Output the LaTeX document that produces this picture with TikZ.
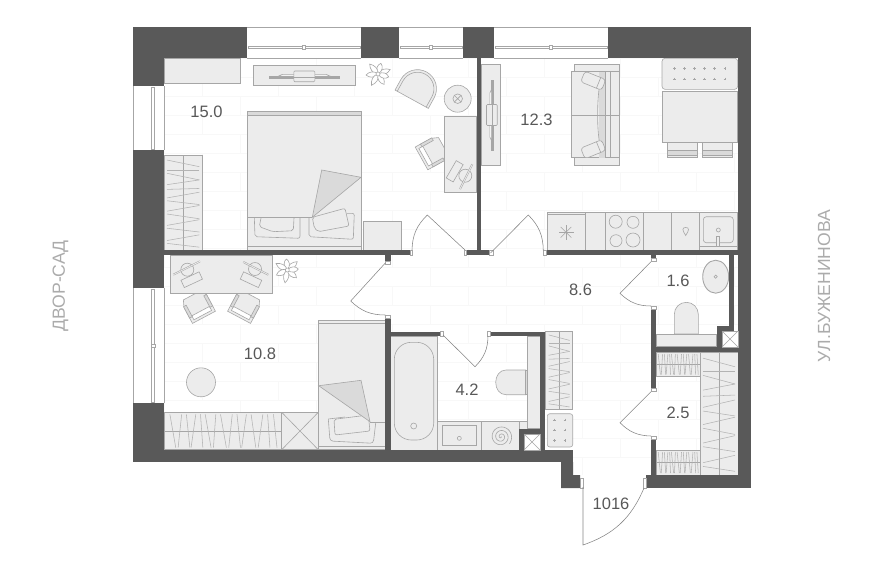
\documentclass[tikz,border=0pt]{standalone}
\usepackage{fontspec}
\setmainfont{Liberation Sans}
\definecolor{wallcol}{HTML}{595959}
\definecolor{furncol}{HTML}{ECECEC}
\definecolor{foldcol}{HTML}{DADADA}
\definecolor{linecol}{HTML}{A6A6A6}
\definecolor{tilecol}{HTML}{F8F8F8}
\definecolor{areacol}{HTML}{585858}
\definecolor{sidecol}{HTML}{ABABAB}
\tikzset{
	wall/.style={fill=wallcol,draw=none},
	furn/.style={fill=furncol,draw=linecol,line width=0.6pt},
	fold/.style={fill=foldcol,draw=linecol,line width=0.6pt},
	thinline/.style={draw=linecol,line width=0.6pt},
	penline/.style={draw=linecol,line width=0.5pt,double=furncol,double distance=0.8pt},
	hanger/.style={draw=linecol!85!white,line width=0.55pt},
	jamb/.style={fill=white,draw=linecol,line width=0.5pt},
	leaf/.style={draw=linecol!80!black,line width=0.55pt},
	area/.style={text=areacol,font=\fontsize{16.5}{20}\selectfont},
	side/.style={text=sidecol,font=\fontsize{17.6}{20}\selectfont,rotate=90}
}
% horizontal window (x0,x1)
\def\winh(#1,#2){
	\draw[thinline] (#1,27) -- (#2,27);
	\draw[thinline] (#1,58) -- (#2,58);
	\draw[jamb] (#1+1,46) rectangle (#2-1,48.7);
	\draw[jamb] ({(#1+#2)/2-1.5},45.5) rectangle ({(#1+#2)/2+1.5},49);
}
% vertical window (y0,y1)
\def\winv(#1,#2){
	\draw[thinline] (133,#1) -- (133,#2);
	\draw[thinline] (164,#1) -- (164,#2);
	\draw[jamb] (151.7,#1+1) rectangle (154.7,#2-1);
}
% wardrobe with hangers across x
\def\rackv(#1,#2)(#3,#4){
	\draw[furn] (#1,#2) rectangle (#3,#4);
	\draw[thinline] ({(#1+#3)/2},#2) -- ({(#1+#3)/2},#4);
	\foreach \ya/\yb in {.05/.12,.16/.16,.19/.26,.31/.26,.36/.35,.45/.39,.48/.52,.59/.53,.62/.67,.74/.68,.77/.81,.9/.84,.93/.97}
		\draw[hanger] (#1+3,{#2+\ya*(#4-#2)}) -- (#3-3,{#2+\yb*(#4-#2)});
}
% wardrobe with hangers across y
\def\rackh(#1,#2)(#3,#4){
	\draw[furn] (#1,#2) rectangle (#3,#4);
	\draw[thinline] (#1,{(#2+#4)/2}) -- (#3,{(#2+#4)/2});
	\foreach \xa/\xb in {.05/.1,.15/.12,.19/.22,.27/.23,.31/.33,.35/.40,.44/.42,.48/.53,.58/.55,.62/.65,.70/.66,.74/.78,.84/.80,.88/.90,.93/.96}
		\draw[hanger] ({#1+\xa*(#3-#1)},#2+2) -- ({#1+\xb*(#3-#1)},#4-2);
}
\def\plant(#1,#2)(#3){
	\begin{scope}[shift={(#1,#2)},rotate=#3]
		\foreach \ang/\len in {20/13,75/11,130/13,185/12,240/13,300/12,345/11}
			\draw[thinline,fill=white,rotate=\ang] (0,0) .. controls (4,-4) and (9,-3) .. (\len,0) .. controls (9,3) and (4,4) .. (0,0);
		\draw[thinline,fill=white] (0,0) circle (2);
	\end{scope}
}
\def\deskchair(#1,#2)(#3){
	\begin{scope}[shift={(#1,#2)},rotate=#3]
		\draw[furn] (-10,-13) -- (10,-13) -- (13,-6) -- (13,12) -- (-13,12) -- (-13,-6) -- cycle;
		\draw[thinline,fill=white] (-10,5) rectangle (10,9.5);
		\draw[fold] (-13,-7) rectangle (-10,6);
		\draw[fold] (10,-7) rectangle (13,6);
	\end{scope}
}
\def\tvset(#1,#2)(#3){
	\begin{scope}[shift={(#1,#2)},rotate=#3]
		\draw[thinline,fill=white] (-35,-.8) rectangle (35,.8);
		\draw[thinline,fill=white] (-26,-.8) -- (-22,-2.6) -- (22,-2.6) -- (26,-.8) -- cycle;
		\draw[furn,rounded corners=1pt] (-10.5,-6) rectangle (10.5,4.7);
		\draw[thinline] (-35,0) -- (35,0);
	\end{scope}
}
\def\deskset(#1,#2)(#3,#4)(#5){
	\draw[thinline,fill=furncol,rotate around={#5:(#3,#4)}] (#3-10,#4-4) rectangle (#3+10,#4+4);
	\draw[thinline] (#1,#2) circle (6.5);
}
\def\doorleaf(#1)(#2)(#3)(#4){
	\draw[leaf] (#1) -- (#2) to[bend #3] (#4);
}
\begin{document}
\begin{tikzpicture}[x=1pt,y=-1pt]
	%%%%% START %%%%%
	\useasboundingbox (0,0) rectangle (883,571);
	
	% floor tiles
	\begin{scope}
		\clip (164,58) -- (738,58) -- (738,475) -- (573,475) -- (573,450) -- (164,450) -- cycle;
		\foreach \i in {0,...,21}
			\draw[tilecol,line width=0.5pt] (164,58+19*\i) -- (738,58+19*\i);
		\foreach \i in {0,...,21}
			\foreach \j in {0,...,8}
				\draw[tilecol,line width=0.5pt] ({164+76*\j+38*mod(\i,2)},{58+19*\i}) -- ({164+76*\j+38*mod(\i,2)},{77+19*\i});
	\end{scope}
	
	% windows
	\winh(247,361)
	\winh(399,463)
	\winh(494,608)
	\winv(86,150)
	\winv(288,403)
	\draw[jamb] (151.2,344) rectangle (155.2,347);
	
	% room 15.0
	\draw[furn] (164,58) rectangle (240,83.5);
	\draw[furn] (253.3,65.3) rectangle (355,85);
	\tvset(304.3,77)(0)
	\plant(378,74)(0)
	\begin{scope}[shift={(411.7,99.2)},rotate=-28.8]
		\draw[furn] (-19,0) -- (-19,-12) .. controls (-19,-22.5) and (-10.5,-31) .. (0,-31) .. controls (10.5,-31) and (19,-22.5) .. (19,-12) -- (19,0) -- cycle;
		\draw[thinline] (-16.5,0) -- (-16.5,-12) .. controls (-16.5,-21) and (-9,-28.5) .. (0,-28.5) .. controls (9,-28.5) and (16.5,-21) .. (16.5,-12) -- (16.5,0);
	\end{scope}
	\draw[furn] (457.7,98.7) circle (13.5);
	\draw[thinline] (457.7,98.7) circle (4.8);
	\draw[thinline] (454.3,95.3) -- (461.1,102.1) (454.3,102.1) -- (461.1,95.3);
	\deskchair(432,152.6)(-61)
	\draw[furn] (444.3,116.7) rectangle (476.7,192.7);
	\deskset(465.3,175.7)(454.7,171.3)(60)
	\draw[penline] (460,189) -- (472.3,164.3);
	\draw[furn] (247,111) rectangle (361.5,250);
	\draw[fold] (247,111) rectangle (361.5,115.7);
	\draw[thinline] (247,217.3) -- (312.3,217.3);
	\draw[thinline] (247,246.7) -- (361.5,246.7);
	\draw[thinline,rounded corners=2pt] (254.3,217.3) -- (255,236.7) -- (300,238.3) -- (300,217.3);
	\draw[thinline,rounded corners=2pt] (261,218) -- (259.3,226.7) -- (273,231.7) -- (293.3,230.7) -- (294,218);
	\draw[thinline,rounded corners=2pt] (309,217.3) -- (309,236.7) -- (353.3,239.3) -- (354.3,213.3) -- (346.7,213.3);
	\draw[furn,rounded corners=2pt] (312.3,217.3) -- (345,208.3) -- (349,226) -- (318.3,231.7) -- (314.3,228) -- cycle;
	\draw[fold] (321.7,170) -- (361,177.3) -- (312.3,217.3) -- cycle;
	\draw[furn] (363.3,221.3) rectangle (401,250);
	\rackv(164,155.3)(202.3,250)
	
	% room 12.3
	\draw[furn] (481.3,64.3) rectangle (500.7,165.7);
	\tvset(492.5,115)(90)
	\draw[furn] (574.3,64.3) rectangle (619.7,72);
	\draw[furn] (574.3,157.7) rectangle (619.7,165.7);
	\draw[furn] (571.7,71.7) rectangle (619.7,157.7);
	\fill[foldcol] (599.3,71.7) rectangle (605,157.7);
	\draw[thinline] (605,71.7) -- (605,157.7) (610,71.7) -- (610,157.7);
	\draw[thinline] (571.7,115) -- (619.7,115);
	\draw[thinline] (599.3,86.7) .. controls (597,105) and (597,125) .. (599.3,141.7);
	\draw[furn,rounded corners=3pt,rotate around={-22:(593.3,80.7)}] (582,75) rectangle (604.5,86.5);
	\draw[thinline,rotate around={-22:(593.3,80.7)}] (599,75) -- (599,86.5);
	\draw[furn,rounded corners=3pt,rotate around={22:(593.3,149.3)}] (582,143.5) rectangle (604.5,155);
	\draw[thinline,rotate around={22:(593.3,149.3)}] (599,143.5) -- (599,155);
	\draw[furn,rounded corners=3pt] (662,58.3) rectangle (737.7,89.3);
	\foreach \i in {0,...,5}
		\foreach \yy in {68.3,79}
			\draw[thinline] ({674.3+10.1*\i-1.3},\yy) -- ({674.3+10.1*\i+1.3},\yy) ({674.3+10.1*\i},\yy-1.3) -- ({674.3+10.1*\i},\yy+1.3);
	\draw[furn] (667,142.3) rectangle (697.7,157.7);
	\draw[fold] (667,150.7) rectangle (697.7,155);
	\draw[furn] (702.3,142.3) rectangle (732.7,157.7);
	\draw[fold] (702.3,150.7) rectangle (732.7,155);
	\draw[furn] (662,91.3) rectangle (737.7,142.3);
	
	% kitchen
	\draw[furn] (547.3,212.3) rectangle (737.7,250);
	\draw[thinline] (547.3,214) -- (585.7,214);
	\foreach \xx in {585.7,605.3,643.3,671.3,699.3}
		\draw[thinline] (\xx,212.3) -- (\xx,250);
	\foreach \ang in {0,45,...,315}
		\draw[thinline] (566,232.3) -- +(\ang:7.5);
	\draw[thinline] (615.7,221.7) circle (6.5);
	\draw[thinline] (633,222.3) circle (6);
	\draw[thinline] (616,240.7) circle (6);
	\draw[thinline] (633,240) circle (7);
	\draw[thinline] (685.7,227.5) .. controls (682,227.5) and (682,230) .. (685.7,235.5) .. controls (689.4,230) and (689.4,227.5) .. (685.7,227.5);
	\draw[thinline,rounded corners=3pt] (703.3,216.7) rectangle (733.3,242.7);
	\draw[thinline] (718.3,230) circle (2);
	\draw[furn] (716.7,236) rectangle (719.7,246);
	\draw[thinline] (699.3,246.7) -- (737.7,246.7);
	
	% room 10.8
	\deskchair(198.3,306.7)(28)
	\deskchair(244.7,306.7)(-28)
	\draw[furn] (170.7,255.3) rectangle (272.3,293.3);
	\deskset(187.3,269.7)(191.7,279.7)(25)
	\draw[penline] (173.3,274.7) -- (200,261.3);
	\deskset(255,269)(251,279.7)(-25)
	\draw[penline] (243.3,262) -- (268.3,274.7);
	\plant(287.3,270)(20)
	\draw[furn] (201,382.3) circle (14.5);
	\rackh(164,412.3)(281.7,449.7)
	\draw[furn] (281.7,412.3) rectangle (318.3,449.7);
	\draw[thinline] (281.7,412.3) -- (318.3,449.7) (281.7,449.7) -- (318.3,412.3);
	\draw[furn] (318.3,320.7) rectangle (385.3,449.7);
	\draw[thinline] (318.3,323.3) -- (385.3,323.3);
	\draw[thinline] (318.3,446.3) -- (385.3,446.3);
	\draw[thinline] (370,422.3) -- (385.3,422.3);
	\draw[thinline,rounded corners=3pt] (328.3,419) -- (330,441) -- (373.3,443.3) -- (375.7,423);
	\draw[thinline,rounded corners=3pt] (328.3,419) -- (345,417);
	\draw[furn,rounded corners=2pt] (334,419.3) -- (335,435) -- (370,431) -- (368.3,415) -- cycle;
	\draw[fold] (318.7,385.7) -- (361,380.3) -- (370,421.7) -- cycle;
	
	% bathroom
	\draw[furn] (390.7,336.3) rectangle (437.7,450);
	\draw[furn,rounded corners=17pt] (394.3,342.3) rectangle (433.7,440);
	\draw[thinline] (413.7,426) circle (3);
	\draw[furn] (437.7,421.7) rectangle (481.7,450);
	\draw[thinline] (442.3,425.3) rectangle (476.7,445);
	\draw[thinline] (459.3,438.3) circle (2);
	\draw[furn] (481.7,421.7) rectangle (519.3,450);
	\draw[thinline] plot[domain=0:1120,samples=90,smooth] ({501+\x/1120*11*cos(\x)},{436.7+\x/1120*11*sin(\x)});
	\draw[furn] (527.7,336.3) rectangle (540,428.3);
	\draw[furn] (519.3,421.7) rectangle (527.7,429);
	\draw[furn] (525.7,370) -- (506,370) .. controls (499.5,370) and (495.7,376) .. (495.7,382.3) .. controls (495.7,389) and (499.5,394.7) .. (506,394.7) -- (525.7,394.7) -- cycle;
	\draw[fold] (525.7,370) rectangle (527.7,394.7);
	
	% hall
	\rackv(545.7,331)(572.7,409.3)
	\draw[furn,rounded corners=2.5pt] (547.3,413.7) rectangle (572.7,447);
	\foreach \xx in {554.7,565}
		\foreach \yy in {420,430,440.7}
			\draw[thinline] (\xx-1.3,\yy) -- (\xx+1.3,\yy) (\xx,\yy-1.3) -- (\xx,\yy+1.3);
	
	% wc
	\draw[thinline,fill=furncol,line width=0.9pt] (715.7,276.7) ellipse (13 and 16.5);
	\draw[thinline] (715.7,276.7) circle (1.6);
	\draw[furn] (674.3,334) -- (674.3,314.3) .. controls (674.3,307.6) and (679.6,302.3) .. (686.3,302.3) .. controls (693,302.3) and (698.3,307.6) .. (698.3,314.3) -- (698.3,334) -- cycle;
	\draw[furn] (656,334.3) rectangle (716.7,346.7);
	
	% closet
	\rackh(656,352)(700,376.7)
	\rackh(656,450)(700,475)
	\rackv(700,352)(738,475)
	
	% walls
	\fill[wall] (133,27) rectangle (247,58);
	\fill[wall] (361,27) rectangle (399,58);
	\fill[wall] (463,27) rectangle (494,58);
	\fill[wall] (608,27) rectangle (751,58);
	\fill[wall] (133,58) rectangle (164,86);
	\fill[wall] (133,150) rectangle (164,288);
	\fill[wall] (133,403) rectangle (164,462.3);
	\fill[wall] (164,450) rectangle (573,462.3);
	\fill[wall] (561,462) -- (561,488) -- (580,488) -- (580,475) -- (573,475) -- (573,462) -- cycle;
	\fill[wall] (646,475) rectangle (751,487.5);
	\fill[wall] (738,58) rectangle (751,475);
	\fill[wall] (164,250) rectangle (410,255.3);
	\fill[wall] (466,250) rectangle (489.5,255.3);
	\fill[wall] (546,250) rectangle (738,255.3);
	\fill[wall] (476.7,58) rectangle (481.3,250);
	\fill[wall] (385.3,255) rectangle (390.7,261);
	\fill[wall] (385.3,318) rectangle (390.7,450);
	\fill[wall] (390,331.7) rectangle (440,336.3);
	\fill[wall] (490,331.7) rectangle (545,336.3);
	\fill[wall] (540,332) rectangle (545,450);
	\fill[wall] (519.3,429) rectangle (540,434);
	\fill[wall] (519.3,429) rectangle (524,450);
	\fill[wall] (651,255) rectangle (656,258);
	\fill[wall] (651,309) rectangle (656,388);
	\fill[wall] (651,439) rectangle (656,475);
	\fill[wall] (656,346.7) rectangle (738,351.7);
	\fill[wall] (729.3,255) rectangle (733.7,331);
	\fill[wall] (717,326) rectangle (733.7,331);
	\fill[wall] (717,326) rectangle (722,347);
	
	% shafts
	\draw[jamb] (524,434) rectangle (540,450);
	\draw[thinline] (524,434) -- (540,450) (524,450) -- (540,434);
	\draw[jamb] (722,331) rectangle (738,347);
	\draw[thinline] (722,331) -- (738,347) (722,347) -- (738,331);
	
	% door jambs
	\draw[jamb] (410,250) rectangle (412.5,255.3);
	\draw[jamb] (464,250) rectangle (466,255.3);
	\draw[jamb] (489.5,250) rectangle (493,255.3);
	\draw[jamb] (543,250) rectangle (546,255.3);
	\draw[jamb] (385.3,261) rectangle (390.7,264);
	\draw[jamb] (385.3,315) rectangle (390.7,318);
	\draw[jamb] (440,331.7) rectangle (443,336.3);
	\draw[jamb] (487,331.7) rectangle (490,336.3);
	\draw[jamb] (651,258) rectangle (656,261);
	\draw[jamb] (651,306) rectangle (656,309);
	\draw[jamb] (651,388) rectangle (656,391);
	\draw[jamb] (651,436) rectangle (656,439);
	\draw[jamb] (580,478) rectangle (583,488);
	\draw[jamb] (643,478) rectangle (646,488);
	
	% door leaves
	\doorleaf(465,250)(427.3,215)(right=22)(412,250)
	\doorleaf(490.5,253)(528.3,215)(left=22)(543.3,250.7)
	\doorleaf(385.3,263)(350.7,301)(right=22)(385.3,315)
	\doorleaf(443,335)(475,366.7)(right=22)(488,336)
	\doorleaf(651,261.7)(620,293.3)(right=22)(651,306)
	\doorleaf(651,391.7)(620,422.7)(right=22)(651,436)
	\doorleaf(583,487)(583,545)(right=24)(644,488)
	
	% areas
	\node[area] (bedroom) at (206.5,112) {15.0};
	\node[area] (living) at (536.5,119.5) {12.3};
	\node[area] (nursery) at (260,354) {10.8};
	\node[area] (hall) at (580.5,290) {8.6};
	\node[area] (bath) at (467,389.5) {4.2};
	\node[area] (wc) at (678,281) {1.6};
	\node[area] (closet) at (678,413) {2.5};
	\node[area] (flatno) at (611,504) {1016};
	\node[side] (yard) at (60.5,286) {ДВОР-САД};
	\node[side] (street) at (824,286) {УЛ.БУЖЕНИНОВА};
	%%%%% END %%%%%
\end{tikzpicture}
\end{document}
